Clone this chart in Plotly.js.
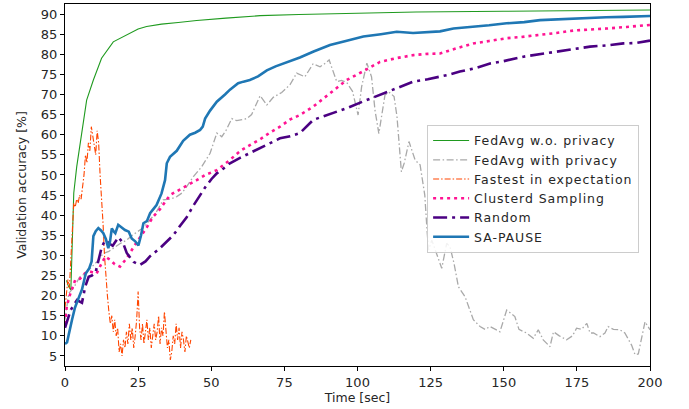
<!DOCTYPE html>
<html>
<head>
<meta charset="utf-8">
<script src="https://cdn.plot.ly/plotly-3.0.1.min.js"></script>
<style>html,body{margin:0;padding:0;background:#fff;}#chart{width:689px;height:409px;}
.legendtext{letter-spacing:0.95px;}</style>
</head>
<body>
<div id="chart"></div>
<script>
// ---- data ----
const seriesNames = ["FedAvg w.o. privacy", "FedAvg with privacy", "Fastest in expectation", "Clusterd Sampling", "Random", "SA-PAUSE"];

const tGreen = [0.5, 1.2, 2.0, 2.6, 3.0, 4.0, 4.7, 5.7, 7.4, 9.7, 12.5, 16.5, 19, 22.2, 25, 27.9, 33, 38.7, 45, 55, 66.7, 80, 97, 120, 150, 175, 200];
const vGreen = [23.8, 22.3, 21.4, 35, 45.5, 52, 55.5, 61, 68.6, 73.6, 79, 83.1, 84, 85.2, 86.3, 86.9, 87.5, 87.9, 88.4, 89, 89.6, 89.9, 90.2, 90.5, 90.7, 90.8, 91.0];

const tGray = [0, 1.3, 3, 5.1, 7, 9, 11, 13.1, 15, 17,
  19, 21.1, 23, 25.6, 27, 29, 31, 33.6, 36, 38.2,
  40, 41.6, 43.9, 46.7, 49.6, 51.9, 53.6, 55, 57, 58.7,
  60.5, 62.1, 63.8, 66.7, 69, 71.2, 74.1, 76.9, 79.2, 82,
  84.8, 87.2, 88.5, 90.3, 92.9, 94.5, 96.3, 98.3, 100.2, 101.4,
  103.2, 104.8, 106, 107.3, 109.4, 111, 112.5, 113.5, 115, 116,
  117.6, 119.7, 121.4, 123, 123.8, 124.3, 125.4, 127, 128.8, 130.5,
  131.6, 133, 134.5, 136.8, 139.6, 141.9, 143.6, 145.3, 147, 148.7,
  151, 152.5, 153.8, 155.2, 157.8, 160.1, 161.8, 163.5, 165.8, 167,
  169, 171.5, 173.5, 174.9, 176.6, 178.4, 179.5, 180.7, 182.9, 184.6,
  185.7, 187.5, 189.7, 191.4, 193.7, 194.9, 196, 198.3, 200];
const vGray = [14, 20.6, 22, 24.7, 25.5, 27, 28.5, 30.5, 31, 32,
  33, 33.8, 35, 36.3, 37, 38.8, 40.5, 43.8, 44, 44.6,
  45.5, 47.1, 49.6, 52, 55.4, 60.4, 59.5, 61, 64, 63.5,
  63.8, 64, 65, 69.7, 67.4, 69.3, 70.5, 72.4, 75.3, 74.4,
  77.6, 76.9, 77.5, 78.6, 73.2, 73.5, 73, 70.8, 64.9, 71.9,
  77.8, 74.4, 66, 60.3, 69.9, 70.5, 69.5, 64.5, 50.8, 53,
  58.3, 53.7, 52.5, 45, 36, 31.3, 33.8, 30.6, 26.8, 33,
  32.2, 28, 22.2, 19.7, 14, 12.3, 11.6, 12.3, 11.6, 11,
  16.4, 15.5, 14.8, 11.6, 10.7, 9.4, 11.5, 9, 7.3, 11,
  10, 9, 10, 11.9, 11.6, 13.1, 10.7, 10.7, 9.8, 10.7,
  12.3, 11.6, 11.5, 10.7, 7.7, 5.3, 5.5, 13.5, 11.5];

const tOrange = [0, 0.5, 1, 1.5, 2, 2.5, 3, 3.5, 4, 4.5,
  5, 5.5, 6, 6.5, 7, 7.5, 8, 8.5, 9, 9.5,
  10, 10.5, 11, 11.5, 12, 12.5, 13, 13.5, 14, 14.5,
  15, 15.5, 16, 16.5, 17, 17.5, 18, 18.5, 19, 19.5,
  20, 20.5, 21, 21.5, 22, 22.5, 23, 23.5, 24, 24.5,
  25, 25.5, 26, 26.5, 27, 27.5, 28, 28.5, 29, 29.5,
  30, 30.5, 31, 31.5, 32, 32.5, 33, 33.5, 34, 34.5,
  35, 35.5, 36, 36.5, 37, 37.5, 38, 38.5, 39, 39.5,
  40, 40.5, 41, 41.5, 42, 42.5, 43];
const vOrange = [17, 21, 24, 22, 30, 38, 43, 42, 44, 43,
  45, 44, 47, 50, 55, 53, 58, 56, 62, 60,
  57, 55, 61, 58, 50, 45, 38, 30, 24, 20,
  16, 13, 15, 11, 14, 10, 12, 6, 8, 5,
  9, 7, 11, 8, 13, 9, 12, 7, 10, 14,
  21, 12, 9, 13, 8, 11, 14, 9, 12, 7,
  10, 13, 9, 11, 15, 8, 12, 10, 16, 11,
  7, 9, 4, 6, 10, 8, 13, 9, 12, 7,
  11, 9, 6, 10, 8, 7, 9];

const tPink = [0, 0.6, 1.7, 3.5, 5.1, 6.9, 8.5, 10.8, 12.5, 13.8,
  15.4, 17, 18.8, 21.1, 23.9, 27.9, 30, 32.5, 35.9, 38.5,
  42, 45, 48, 51.9, 56, 60, 63.2, 67, 70, 73.5,
  77, 80.3, 84.9, 90, 96.3, 102, 107.7, 113, 119.1, 124,
  128.2, 133.9, 139.6, 145, 151, 156, 162.4, 168, 173.8, 180,
  185.2, 192, 200];
const vPink = [13, 17.3, 20.2, 23.9, 24.2, 25.6, 26, 25.5, 28, 29.7,
  28.9, 27.8, 27.2, 29.3, 32.6, 36.9, 39.5, 41.5, 45, 46,
  47.5, 48.7, 50, 51.2, 53.5, 56, 57.4, 59, 60.5, 62,
  63.8, 64.9, 67, 70, 73.6, 75.8, 78.1, 79, 79.8, 80.1,
  80.2, 81.5, 82.7, 83.3, 84, 84.3, 84.8, 85.3, 85.9, 86.1,
  86.4, 86.8, 87.3];

const tPurple = [0, 2, 4.1, 5.8, 6.9, 8.1, 9.2, 10.4, 11.5, 12.6,
  13.8, 15, 16.3, 18.3, 19.9, 21.1, 23.4, 25.6, 27.5, 29.1,
  32.5, 35, 37, 39.5, 41.6, 44, 46.2, 48, 50.1, 51.9,
  54, 56.4, 60, 63.2, 66, 69, 73.5, 77, 80.3, 84.9,
  90, 96.3, 102, 107.7, 113, 119.1, 124, 128.2, 130.5, 135,
  140, 145.3, 150, 156.7, 162, 168.1, 174, 179.5, 185, 190.9,
  195, 200];
const vPurple = [12, 16.5, 18.9, 18.2, 22.2, 24.7, 25, 25.6, 28.9, 32.2,
  33.8, 33, 32.4, 34.5, 33, 30.6, 28.4, 27.6, 28.5, 29.8,
  31.8, 33.5, 35, 37.5, 39.5, 42.5, 45, 47, 49, 50.4,
  51.5, 52.9, 54.3, 55.4, 56.5, 57.4, 59.1, 59.6, 60.4, 63.7,
  65, 66.6, 68.3, 69.9, 71.5, 73.2, 73.8, 74.4, 74.8, 75.7,
  76.5, 77.7, 78.3, 79.4, 80, 80.6, 81.2, 81.9, 82.2, 82.7,
  82.8, 83.4];

const tBlue = [0, 0.7, 2.4, 3.4, 4.7, 5.8, 7.1, 8.3, 9.1, 9.7,
  10.5, 11.4, 12.3, 13.1, 14, 14.8, 15.4, 16, 16.6, 17.2,
  18.2, 19.2, 20.5, 21.8, 22.8, 24, 25.1, 26, 26.8, 28,
  29.1, 30.2, 31.3, 33, 34.2, 34.8, 35.9, 38.2, 40.4, 42.7,
  44.5, 46.2, 47.1, 47.9, 49.6, 51.9, 53, 54.7, 56.4, 59.2,
  61, 63.2, 66, 69, 72, 74.6, 77.5, 80.3, 85, 90.6,
  96, 102, 108, 113.4, 119, 124.8, 128.2, 132.8, 139.6, 145,
  151, 157, 162.4, 168, 173.8, 180, 185, 190.9, 195, 200];
const vBlue = [8, 8.4, 14, 17, 19.5, 21.5, 25.5, 26.8, 28.5, 34.8,
  36, 36.8, 36.2, 35.5, 34, 31.8, 33.5, 36.7, 36, 35.5,
  37.6, 37, 36.3, 35.9, 34.2, 33.5, 32.5, 35, 38, 38.5,
  40.5, 41.5, 42.5, 45.4, 48.7, 52.9, 54.5, 56, 58.5, 60,
  60.5, 61.2, 62, 64, 66, 68.2, 69, 70, 71.2, 72.8,
  73.2, 73.6, 74.5, 76, 77, 77.7, 78.3, 79.2, 80.7, 82.3,
  83.3, 84.4, 85, 85.6, 85.3, 85.6, 85.7, 86.4, 86.8, 87.2,
  87.7, 88, 88.5, 88.7, 88.9, 89.1, 89.2, 89.3, 89.4, 89.5];

const xTicks = [0, 25, 50, 75, 100, 125, 150, 175, 200];
const yTicks = [5, 10, 15, 20, 25, 30, 35, 40, 45, 50, 55, 60, 65, 70, 75, 80, 85, 90];

// ---- traces ----
const FONT = "DejaVu Sans, Liberation Sans, sans-serif";
const traces = [
  {x: tGreen, y: vGreen, name: seriesNames[0], line: {color: "#1f9a1f", width: 1.1}},
  {x: tGray, y: vGray, name: seriesNames[1], line: {color: "#a9a9a9", width: 1.3, dash: "7px,2.5px,1.5px,2.5px"}},
  {x: tOrange, y: vOrange, name: seriesNames[2], line: {color: "#ff4500", width: 1.1, dash: "6px,2px,1.5px,2px"}},
  {x: tPink, y: vPink, name: seriesNames[3], line: {color: "#ff1493", width: 2.6, dash: "3px,4px"}},
  {x: tPurple, y: vPurple, name: seriesNames[4], line: {color: "#4b0082", width: 2.6, dash: "14px,5px,3px,5px"}},
  {x: tBlue, y: vBlue, name: seriesNames[5], line: {color: "#1f77b4", width: 2.6}}
].map(t => Object.assign({type: "scatter", mode: "lines", hoverinfo: "skip"}, t));

const layout = {
  width: 689, height: 409,
  margin: {l: 65, r: 39, t: 4, b: 43, pad: 0},
  paper_bgcolor: "#fff", plot_bgcolor: "#fff",
  font: {family: FONT, size: 13, color: "#262626"},
  showlegend: true,
  legend: {
    x: 0.619, y: 0.666, xanchor: "left", yanchor: "top",
    bgcolor: "rgba(255,255,255,0.85)", bordercolor: "#cccccc", borderwidth: 1,
    font: {family: FONT, size: 12.5, color: "#262626"},
    itemwidth: 36,
    tracegroupgap: 0
  },
  xaxis: {
    range: [0, 200], tickvals: xTicks, ticktext: xTicks.map(String),
    ticks: "outside", ticklen: 4, tickwidth: 1, tickcolor: "#000",
    showline: true, mirror: true, linecolor: "#000", linewidth: 1,
    showgrid: false, zeroline: false, automargin: false,
    title: {text: "Time [sec]", font: {family: FONT, size: 12.5, color: "#262626"}, standoff: 4}
  },
  yaxis: {
    range: [2.5, 92.5], tickvals: yTicks, ticktext: yTicks.map(String),
    ticks: "outside", ticklen: 4, tickwidth: 1, tickcolor: "#000",
    showline: true, mirror: true, linecolor: "#000", linewidth: 1,
    showgrid: false, zeroline: false, automargin: false,
    title: {text: "Validation accuracy [%]", font: {family: FONT, size: 12.5, color: "#262626"}, standoff: 11}
  }
};

Plotly.newPlot("chart", traces, layout, {staticPlot: true, displayModeBar: false});
</script>
</body>
</html>
